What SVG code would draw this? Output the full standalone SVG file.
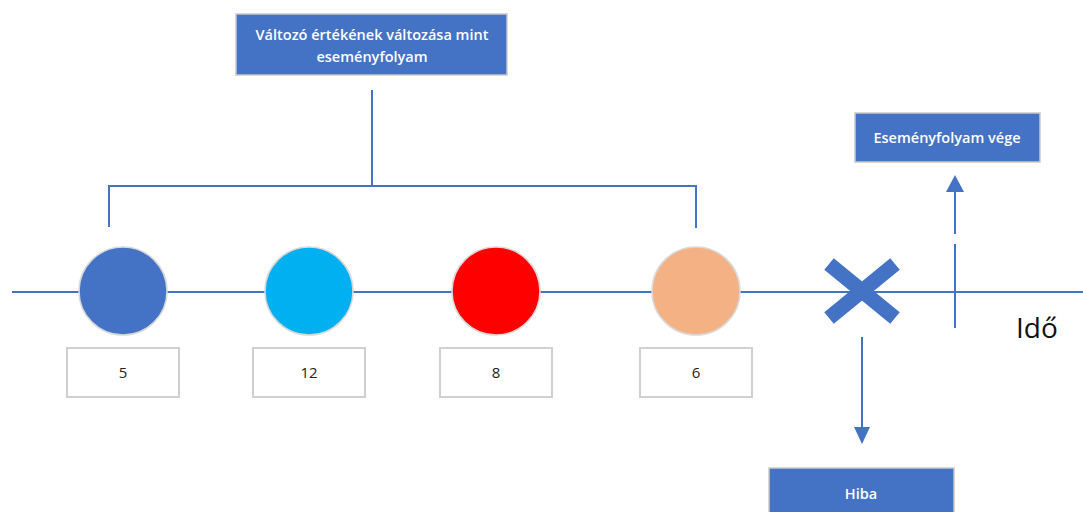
<svg xmlns="http://www.w3.org/2000/svg" width="1083" height="512" viewBox="0 0 1083 512">
<defs>
<style>
.ln{stroke:#4472C4;stroke-width:2;fill:none}
.box{fill:#4472C4;stroke:#C9C9C9;stroke-width:1.5}
.vb{fill:#fff;stroke:#D0D0D0;stroke-width:2}
.bt{font-family:"Open Sans","Liberation Sans",sans-serif;font-weight:600;font-size:14.5px;fill:#fff;text-anchor:middle}
.vt{font-family:"Open Sans","Liberation Sans",sans-serif;font-size:15px;fill:#222;text-anchor:middle}
.c{stroke:#D9D9D9;stroke-width:1.5}
</style>
</defs>
<rect width="1083" height="512" fill="#fff"/>
<g id="connectors">
<line class="ln" x1="12" y1="292" x2="1083" y2="292"/>
<polyline class="ln" points="109,227 109,186 696,186 696,228"/>
<line class="ln" x1="372" y1="90" x2="372" y2="186"/>
<line class="ln" x1="955" y1="244" x2="955" y2="328"/>
<line class="ln" x1="955" y1="234" x2="955" y2="192"/>
<path d="M946,192 L955,175 L964,192 z" fill="#4472C4"/>
<line class="ln" x1="862" y1="337" x2="862" y2="427"/>
<path d="M854,427 L862,444 L870,427 z" fill="#4472C4"/>
</g>
<g id="title">
<rect class="box" x="236" y="14" width="271" height="61"/>
<text class="bt" x="372" y="40">Változó értékének változása mint</text>
<text class="bt" x="372" y="62">eseményfolyam</text>
</g>
<g id="end">
<rect class="box" x="855" y="113" width="185" height="49"/>
<text class="bt" x="947" y="143">Eseményfolyam vége</text>
</g>
<g id="error">
<rect class="box" x="769" y="468" width="185" height="50"/>
<text class="bt" x="861" y="499">Hiba</text>
</g>
<g id="ev1">
<circle class="c" cx="123" cy="291" r="44" fill="#4472C4"/>
<rect class="vb" x="67" y="348" width="112" height="49"/>
<text class="vt" x="123" y="378">5</text>
</g>
<g id="ev2">
<circle class="c" cx="309" cy="291" r="44" fill="#00B0F0"/>
<rect class="vb" x="253" y="348" width="112" height="49"/>
<text class="vt" x="309" y="378">12</text>
</g>
<g id="ev3">
<circle class="c" cx="496" cy="291" r="44" fill="#FF0000"/>
<rect class="vb" x="440" y="348" width="112" height="49"/>
<text class="vt" x="496" y="378">8</text>
</g>
<g id="ev4">
<circle class="c" cx="696" cy="291" r="44" fill="#F4B183"/>
<rect class="vb" x="640" y="348" width="112" height="49"/>
<text class="vt" x="696" y="378">6</text>
</g>
<g id="cross">
<path d="M829,264 L895,318 M895,264 L829,318" stroke="#4472C4" stroke-width="15" fill="none"/>
</g>
<g id="time">
<text x="1016" y="338" font-family="Open Sans, Liberation Sans, sans-serif" font-size="28" fill="#111">Idő</text>
</g>
</svg>
